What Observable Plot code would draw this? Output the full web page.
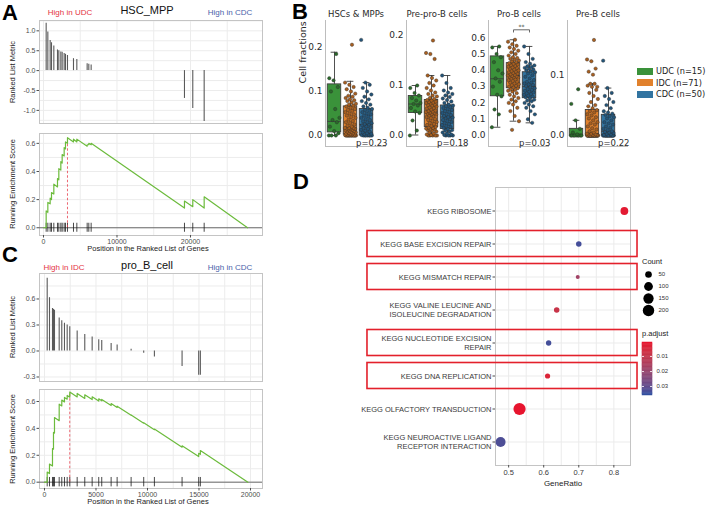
<!DOCTYPE html>
<html><head><meta charset="utf-8">
<script src="https://cdn.jsdelivr.net/npm/d3@7"></script>
<script src="https://cdn.jsdelivr.net/npm/@observablehq/plot@0.6"></script>
<style>
html,body{margin:0;padding:0;background:#fff;}
#root{position:relative;width:709px;height:507px;overflow:hidden;background:#fff;}
</style></head><body><div id="root"></div>
<script>
// ---------------- Panel A : HSC_MPP (GSEA) ----------------
const hscGenes  = [363,590,907,1088,1405,1904,2085,2358,2539,2811,2992,3264,4080,4535,5940,6165,6483,19180,20310,21860];
const hscMetric = [1.19,0.97,0.76,0.70,0.62,0.52,0.50,0.47,0.46,0.43,0.41,0.38,0.30,0.28,0.17,0.16,0.14,-0.70,-0.95,-1.28];
const hscESGene  = [0,363,363,590,590,907,907,1088,1088,1405,1405,1904,1904,2085,2085,2358,2358,2539,2539,2811,2811,2992,2992,3264,3264,4080,4080,4535,4535,5940,5940,6165,6165,6483,6483,19180,19180,20310,20310,21860,21860,27760];
const hscESValue = [0,0,0.12,0.11,0.18,0.17,0.21,0.20,0.25,0.24,0.31,0.29,0.35,0.34,0.42,0.41,0.47,0.46,0.52,0.51,0.57,0.56,0.61,0.60,0.64,0.61,0.63,0.61,0.63,0.58,0.59,0.59,0.60,0.59,0.60,0.14,0.19,0.15,0.20,0.14,0.22,0];

// ---------------- Panel C : pro_B_cell (GSEA) ----------------
const proBGenes  = [262,485,776,873,970,1426,1678,1940,2202,2454,3172,3910,4627,5267,5558,6470,7052,8410,9632,10670,13357,14970,15132];
const proBMetric = [0.84,0.615,0.49,0.48,0.47,0.38,0.35,0.32,0.30,0.28,0.23,0.19,0.16,0.13,0.12,0.085,0.07,0.02,-0.026,-0.07,-0.18,-0.28,-0.28];
const proBESGene  = [0,262,262,485,485,776,776,873,873,970,970,1426,1426,1678,1678,1940,1940,2202,2202,2454,2454,3172,3172,3910,3910,4627,4627,5267,5267,5558,5558,6470,6470,7052,7052,8410,8410,9632,9632,10670,10670,13357,13357,14970,14970,15132,15132,19750];
const proBESValue = [0,0,0.075,0.064,0.135,0.12,0.25,0.245,0.37,0.365,0.48,0.457,0.58,0.567,0.61,0.597,0.63,0.617,0.645,0.632,0.67,0.634,0.66,0.623,0.65,0.614,0.635,0.603,0.62,0.605,0.615,0.57,0.585,0.556,0.565,0.497,0.50,0.439,0.442,0.39,0.395,0.26,0.27,0.19,0.215,0.207,0.235,0];

// ---------------- Panel B : cell fractions ----------------
const bGroups = ["UDC","IDC","CDC"];
const bGroupN = [15,71,50];
const bColors = ["#3a923a","#e1812c","#3274a1"];
const bPointColors = ["#2a6a2a","#a95f1f","#23557a"];
const bCellTypes = ["HSCs & MPPs","Pre-pro-B cells","Pro-B cells","Pre-B cells"];
const bPValues = ["p=0.23","p=0.18","p=0.03","p=0.22"];
// box statistics [UDC, IDC, CDC]
const bLow  = [[0,0,0],[0.001,0,0],[0.051,0.088,0.078],[0,0,0]];
const bQ1   = [[0.007,0.002,0],[0.045,0.017,0.013],[0.241,0.29,0.229],[0,0,0]];
const bMed  = [[0.032,0.017,0.025],[0.063,0.047,0.037],[0.348,0.368,0.30],[0,0.003,0.007]];
const bQ3   = [[0.116,0.066,0.06],[0.079,0.071,0.06],[0.485,0.444,0.388],[0.011,0.042,0.034]];
const bHigh = [[0.189,0.123,0.12],[0.10,0.12,0.12],[0.546,0.587,0.546],[0.025,0.085,0.078]];
// individual samples
const hscUDC = [0,0,0,0.005,0.01,0.02,0.03,0.035,0.04,0.06,0.1,0.11,0.125,0.13,0.185];
const hscIDC = [0,0,0,0,0,0,0,0,0,0,0,0,0,0.001,0.001,0.002,0.002,0.002,0.003,0.004,0.005,0.006,0.007,0.008,0.009,0.010,0.011,0.012,0.013,0.014,0.015,0.016,0.016,0.017,0.017,0.017,0.02,0.022,0.025,0.028,0.03,0.033,0.036,0.04,0.042,0.045,0.048,0.05,0.053,0.056,0.058,0.06,0.063,0.066,0.068,0.07,0.072,0.075,0.078,0.08,0.082,0.085,0.088,0.09,0.095,0.1,0.105,0.11,0.115,0.12,0.206];
const hscCDC = [0,0,0,0,0,0,0,0.001,0.002,0.003,0.004,0.005,0.007,0.009,0.011,0.013,0.015,0.017,0.019,0.021,0.023,0.025,0.026,0.028,0.03,0.032,0.035,0.037,0.04,0.043,0.045,0.048,0.05,0.053,0.056,0.058,0.06,0.063,0.066,0.07,0.074,0.078,0.082,0.088,0.093,0.1,0.108,0.115,0.12,0.217];
const preproUDC = [0,0.01,0.03,0.045,0.048,0.055,0.06,0.063,0.065,0.07,0.075,0.08,0.085,0.095,0.1];
const preproIDC = [0,0,0,0,0,0.001,0.002,0.004,0.006,0.008,0.01,0.011,0.012,0.013,0.014,0.015,0.016,0.017,0.019,0.021,0.023,0.025,0.027,0.029,0.031,0.033,0.035,0.037,0.039,0.04,0.042,0.043,0.044,0.045,0.046,0.047,0.048,0.049,0.05,0.052,0.054,0.055,0.056,0.058,0.06,0.061,0.062,0.064,0.065,0.066,0.067,0.068,0.07,0.071,0.073,0.075,0.078,0.08,0.083,0.086,0.09,0.095,0.1,0.105,0.11,0.115,0.12,0.153,0.163,0.165,0.19];
const preproCDC = [0,0,0,0,0.001,0.002,0.004,0.006,0.008,0.01,0.011,0.013,0.015,0.017,0.019,0.021,0.023,0.025,0.027,0.029,0.031,0.033,0.035,0.036,0.037,0.039,0.041,0.043,0.045,0.047,0.049,0.051,0.053,0.055,0.057,0.059,0.06,0.062,0.065,0.068,0.071,0.074,0.077,0.08,0.083,0.086,0.09,0.095,0.105,0.12];
const proUDC = [0.051,0.13,0.16,0.24,0.25,0.3,0.33,0.35,0.38,0.4,0.45,0.48,0.5,0.54,0.546];
const proIDC = [0.035,0.088,0.12,0.15,0.17,0.19,0.2,0.21,0.22,0.23,0.24,0.25,0.26,0.27,0.275,0.28,0.285,0.29,0.295,0.3,0.305,0.31,0.315,0.32,0.325,0.33,0.335,0.34,0.345,0.35,0.355,0.358,0.36,0.363,0.366,0.368,0.372,0.376,0.38,0.384,0.388,0.392,0.396,0.4,0.405,0.41,0.414,0.418,0.422,0.427,0.432,0.436,0.44,0.444,0.45,0.455,0.46,0.465,0.47,0.475,0.48,0.49,0.5,0.51,0.52,0.53,0.54,0.55,0.56,0.575,0.587];
const proCDC = [0.078,0.1,0.13,0.15,0.17,0.18,0.19,0.2,0.21,0.215,0.22,0.229,0.235,0.24,0.245,0.25,0.255,0.26,0.265,0.27,0.275,0.28,0.285,0.29,0.297,0.303,0.31,0.315,0.32,0.325,0.33,0.34,0.35,0.36,0.37,0.38,0.388,0.395,0.4,0.405,0.41,0.415,0.42,0.425,0.43,0.44,0.45,0.47,0.5,0.546];
const preBUDC = [0,0,0,0,0,0,0,0,0,0.002,0.005,0.011,0.025,0.052,0.076];
const preBIDC = [0,0,0,0,0,0,0,0,0,0,0,0,0,0,0,0,0,0,0,0,0,0,0,0,0,0,0,0,0,0,0.001,0.001,0.002,0.002,0.003,0.003,0.005,0.007,0.01,0.012,0.015,0.018,0.02,0.022,0.025,0.028,0.03,0.033,0.035,0.038,0.04,0.042,0.045,0.048,0.05,0.055,0.06,0.065,0.07,0.075,0.08,0.082,0.085,0.085,0.08,0.1,0.105,0.11,0.122,0.125,0.157];
const preBCDC = [0,0,0,0,0,0,0,0,0,0,0,0,0,0,0,0,0,0,0,0,0.001,0.002,0.003,0.004,0.005,0.006,0.007,0.009,0.011,0.013,0.015,0.018,0.02,0.022,0.025,0.028,0.03,0.032,0.034,0.036,0.038,0.04,0.045,0.05,0.055,0.06,0.065,0.07,0.078,0.123];
const bPoints = [[hscUDC,hscIDC,hscCDC],[preproUDC,preproIDC,preproCDC],[proUDC,proIDC,proCDC],[preBUDC,preBIDC,preBCDC]];
const bSignif = {panel: 2, from: 1, to: 2, y: 0.648, label: "**"};

// ---------------- Panel D : KEGG dot plot ----------------
const keggTerms = ["KEGG RIBOSOME","KEGG BASE EXCISION REPAIR","KEGG MISMATCH REPAIR","KEGG VALINE LEUCINE AND ISOLEUCINE DEGRADATION","KEGG NUCLEOTIDE EXCISION REPAIR","KEGG DNA REPLICATION","KEGG OLFACTORY TRANSDUCTION","KEGG NEUROACTIVE LIGAND RECEPTOR INTERACTION"];
const keggLabels = ["KEGG RIBOSOME","KEGG BASE EXCISION REPAIR","KEGG MISMATCH REPAIR","KEGG VALINE LEUCINE AND\nISOLEUCINE DEGRADATION","KEGG NUCLEOTIDE EXCISION\nREPAIR","KEGG DNA REPLICATION","KEGG OLFACTORY TRANSDUCTION","KEGG NEUROACTIVE LIGAND\nRECEPTOR INTERACTION"];
const geneRatio = [0.83,0.70,0.697,0.637,0.614,0.611,0.531,0.477];
const geneCount = [73,32,16,32,30,28,240,140];
const pAdjust   = [0.002,0.034,0.018,0.009,0.034,0.004,0.001,0.033];
const highlighted = ["KEGG BASE EXCISION REPAIR","KEGG MISMATCH REPAIR","KEGG NUCLEOTIDE EXCISION REPAIR","KEGG DNA REPLICATION"];
const countBreaks = [50,100,150,200];
const pBreaks = [0.01,0.02,0.03];
const geneRatioTicks = [0.5,0.6,0.7,0.8];

// ================= helpers =================
const root = document.getElementById("root");
const GG = '"Liberation Sans", Arial, Helvetica, sans-serif';
const MPL = '"DejaVu Sans", sans-serif';

function mount(opts, f, m) {
  const svg = Plot.plot({
    ...opts,
    width: f.x1 - f.x0 + m.l + m.r,
    height: f.y1 - f.y0 + m.t + m.b,
    marginLeft: m.l, marginRight: m.r, marginTop: m.t, marginBottom: m.b,
    style: {background: "none", overflow: "visible", fontFamily: opts.font || GG}
  });
  svg.style.position = "absolute";
  svg.style.left = (f.x0 - m.l) + "px";
  svg.style.top = (f.y0 - m.t) + "px";
  root.appendChild(svg);
  return svg;
}
function txt(s, x, y, o = {}) {
  const d = document.createElement("div");
  d.textContent = s;
  const ax = o.anchor === "start" ? "0%" : o.anchor === "end" ? "-100%" : "-50%";
  d.style.cssText = `position:absolute;left:${x}px;top:${y}px;transform:translate(${ax},-50%)${o.rotate ? ` rotate(${o.rotate}deg)` : ""};` +
    `font-size:${o.size || 8}px;color:${o.color || "#000"};font-family:${o.family || GG};font-weight:${o.weight || "normal"};white-space:nowrap;line-height:${o.lh || 1};`;
  root.appendChild(d);
  return d;
}

// ================= GSEA panels =================
function gsea(c) {
  const hits = c.genes.map((g, i) => ({gene: g, metric: c.metric[i]}));
  const es = c.esGene.map((g, i) => ({gene: g, es: c.esValue[i]}));
  const pk = d3.maxIndex(c.esValue);
  const peak = [{gene: c.esGene[pk], es: c.esValue[pk]}];
  const X = {x0: 39, x1: 262};
  const axisStyle = {tickSize: 2.5, tickPadding: 1.5, fontSize: 7, fill: "#4d4d4d", stroke: "#4d4d4d", label: null};
  mount({
    x: {domain: c.xDomain, axis: null},
    y: {domain: c.top.dom, axis: null},
    marks: [
      Plot.ruleX(c.xGrid, {stroke: "#ececec"}),
      Plot.ruleY(c.top.grid, {stroke: "#ececec"}),
      Plot.ruleX(hits, {x: "gene", y1: 0, y2: "metric", stroke: "#5a5a5a", strokeWidth: 1.1}),
      Plot.frame({stroke: "#c4c4c4"}),
      Plot.axisY(c.top.ticks, {...axisStyle, tickFormat: d => d.toFixed(1)})
    ]
  }, {...X, y0: c.top.y0, y1: c.top.y1}, {l: 40, r: 2, t: 2, b: 2});
  mount({
    x: {domain: c.xDomain, axis: null},
    y: {domain: c.bot.dom, axis: null},
    marks: [
      Plot.ruleX(c.xGrid, {stroke: "#ececec"}),
      Plot.ruleY(c.bot.grid, {stroke: "#ececec"}),
      Plot.frame({stroke: "#c4c4c4"}),
      Plot.ruleY([0], {stroke: "#5a5a5a", strokeWidth: 0.9}),
      Plot.ruleX(hits, {x: "gene", y1: -c.bot.tick, y2: c.bot.tick, stroke: "#1a1a1a", strokeWidth: 0.8}),
      Plot.ruleX(peak, {x: "gene", y1: 0, y2: "es", stroke: "#e8414f", strokeDasharray: "2.5,2", strokeWidth: 0.8}),
      Plot.line(es, {x: "gene", y: "es", stroke: "#6cbb3c", strokeWidth: 1.2}),
      Plot.axisX(c.xTicks, {...axisStyle, tickFormat: d => String(d)}),
      Plot.axisY(c.bot.ticks, {...axisStyle, tickFormat: d => d.toFixed(1)})
    ]
  }, {...X, y0: c.bot.y0, y1: c.bot.y1}, {l: 40, r: 2, t: 2, b: 20});
  txt("Ranked List Metric", 13, (c.top.y0 + c.top.y1) / 2, {size: 7.5, color: "#222", rotate: -90});
  txt("Running Enrichment Score", 13, (c.bot.y0 + c.bot.y1) / 2, {size: 7.5, color: "#222", rotate: -90});
  txt("Position in the Ranked List of Genes", 148, c.bot.y1 + 14, {size: 7.5, color: "#222"});
  txt(c.title, 147, c.titleY, {size: 11, color: "#111"});
  txt(c.left, c.leftX, c.titleY + 3, {size: 8, color: "#e4343f"});
  txt(c.right, 230, c.titleY + 3, {size: 8, color: "#4a63aa"});
}

gsea({
  genes: hscGenes, metric: hscMetric, esGene: hscESGene, esValue: hscESValue,
  xDomain: [-544, 29796], xTicks: [0, 10000, 20000], xGrid: [0, 5000, 10000, 15000, 20000, 25000],
  top: {y0: 20, y1: 123, dom: [-1.33, 1.26], ticks: [-1, -0.5, 0, 0.5, 1], grid: [-1.25, -1, -0.75, -0.5, -0.25, 0, 0.25, 0.5, 0.75, 1, 1.25]},
  bot: {y0: 133, y1: 235, dom: [-0.055, 0.67], ticks: [0, 0.2, 0.4, 0.6], grid: [0, 0.1, 0.2, 0.3, 0.4, 0.5, 0.6], tick: 0.032},
  title: "HSC_MPP", titleY: 10, left: "High in UDC", leftX: 70, right: "High in CDC"
});
gsea({
  genes: proBGenes, metric: proBMetric, esGene: proBESGene, esValue: proBESValue,
  xDomain: [-485, 21165], xTicks: [0, 5000, 10000, 15000, 20000], xGrid: [0, 2500, 5000, 7500, 10000, 12500, 15000, 17500, 20000],
  top: {y0: 273, y1: 381, dom: [-0.352, 0.894], ticks: [-0.3, 0, 0.3, 0.6], grid: [-0.3, -0.15, 0, 0.15, 0.3, 0.45, 0.6, 0.75]},
  bot: {y0: 389, y1: 488, dom: [-0.047, 0.689], ticks: [0, 0.2, 0.4, 0.6], grid: [0, 0.1, 0.2, 0.3, 0.4, 0.5, 0.6], tick: 0.035},
  title: "pro_B_cell", titleY: 265, left: "High in IDC", leftX: 64, right: "High in CDC"
});

// ================= Panel B =================
const bLayout = [
  {x0: 325, dom: [-0.025, 0.261], ticks: [0, 0.1, 0.2]},
  {x0: 406, dom: [-0.022, 0.23], ticks: [0, 0.1, 0.2]},
  {x0: 488, dom: [-0.067, 0.705], ticks: [0, 0.1, 0.2, 0.3, 0.4, 0.5, 0.6]},
  {x0: 567, dom: [-0.018, 0.189], ticks: [0, 0.1]}
];
const jit = (j, i) => ((((j * 0.6180339) + i * 0.37) % 1) - 0.5) * 0.7;
bLayout.forEach((L, k) => {
  const stats = bGroups.map((g, i) => ({pos: i, lo: bLow[k][i], q1: bQ1[k][i], med: bMed[k][i], q3: bQ3[k][i], hi: bHigh[k][i]}));
  const pts = bPoints[k].flatMap((arr, i) => arr.map((v, j) => ({pos: i, v, j})));
  const xd = [-0.5625, 3.25];
  const edge = "#3d3d3d";
  const marks = [
    Plot.ruleX([xd[0]], {stroke: "#bdbdbd", strokeWidth: 1}),
    Plot.ruleY([L.dom[0]], {stroke: "#bdbdbd", strokeWidth: 1}),
    Plot.ruleX(stats, {x: "pos", y1: "lo", y2: "q1", stroke: edge, strokeWidth: 0.9}),
    Plot.ruleX(stats, {x: "pos", y1: "q3", y2: "hi", stroke: edge, strokeWidth: 0.9}),
    Plot.ruleY(stats, {y: "lo", x1: d => d.pos - 0.21, x2: d => d.pos + 0.21, stroke: edge, strokeWidth: 0.9}),
    Plot.ruleY(stats, {y: "hi", x1: d => d.pos - 0.21, x2: d => d.pos + 0.21, stroke: edge, strokeWidth: 0.9}),
    Plot.rect(stats, {x1: d => d.pos - 0.42, x2: d => d.pos + 0.42, y1: "q1", y2: "q3", fill: d => bColors[d.pos], stroke: edge, strokeWidth: 0.9}),
    Plot.ruleY(stats, {y: "med", x1: d => d.pos - 0.42, x2: d => d.pos + 0.42, stroke: edge, strokeWidth: 0.9}),
    Plot.dot(pts, {x: d => d.pos + jit(d.j, d.pos), y: "v", r: 1.7, fill: d => bPointColors[d.pos], stroke: "#2a2a2a", strokeWidth: 0.4}),
    Plot.axisY(L.ticks, {tickSize: 0, tickPadding: 3, fontSize: 9, fontFamily: MPL, fill: "#2a2a2a", tickFormat: d => d.toFixed(1), label: null}),
    Plot.text([bCellTypes[k]], {text: d => d, frameAnchor: "top", dy: -10, fontSize: 8.5, fontFamily: MPL, fill: "#2a2a2a"}),
    Plot.text([bPValues[k]], {text: d => d, frameAnchor: "bottom-right", textAnchor: "end", lineAnchor: "bottom", dy: -1, dx: 1, fontSize: 8.5, fontFamily: MPL, fill: "#2a2a2a"})
  ];
  if (k === 0) marks.push(Plot.text(["Cell fractions"], {text: d => d, frameAnchor: "left", rotate: -90, dx: -23, fontSize: 9.5, fontFamily: MPL, fill: "#2a2a2a"}));
  if (k === bSignif.panel) {
    const s = bSignif;
    const br = [{x: s.from, y: s.y - 0.014}, {x: s.from, y: s.y}, {x: s.to, y: s.y}, {x: s.to, y: s.y - 0.014}];
    marks.push(Plot.line(br, {x: "x", y: "y", stroke: "#444", strokeWidth: 0.8}));
    marks.push(Plot.text([s], {x: d => (d.from + d.to) / 2, y: d => d.y, text: d => d.label, dy: -3, fontSize: 6, fill: "#333"}));
  }
  mount({
    font: MPL,
    x: {domain: xd, axis: null},
    y: {domain: L.dom, axis: null},
    marks
  }, {x0: L.x0, x1: L.x0 + 61, y0: 20, y1: 146}, {l: 26, r: 4, t: 20, b: 6});
});
// legend of panel B
bGroups.forEach((g, i) => {
  const y = 71 + i * 11.5;
  const sw = document.createElement("div");
  sw.style.cssText = `position:absolute;left:637px;top:${y - 3.5}px;width:16px;height:7px;background:${bColors[i]};`;
  root.appendChild(sw);
  txt(`${g} (n=${bGroupN[i]})`, 656, y, {anchor: "start", size: 8.2, family: MPL, color: "#222"});
});

// ================= Panel D =================
const dRows = keggTerms.map((t, i) => ({term: t, ratio: geneRatio[i], count: geneCount[i], p: pAdjust[i]}));
const rScale = {type: "pow", exponent: 0.3, domain: [16, 240], range: [2, 6.1]};
const cScale = {type: "linear", domain: [0.0007, 0.036], range: ["#e8112d", "#2c4fa0"], interpolate: "lab"};
mount({
  x: {domain: [0.4625, 0.8475], axis: null},
  y: {type: "band", domain: keggTerms, paddingInner: 0, paddingOuter: 0.1, axis: null},
  r: rScale,
  color: cScale,
  marks: [
    Plot.ruleX([0.5, 0.55, 0.6, 0.65, 0.7, 0.75, 0.8], {stroke: "#ebebeb"}),
    Plot.ruleY(keggTerms, {y: d => d, stroke: "#ebebeb"}),
    Plot.frame({stroke: "#c4c4c4"}),
    Plot.barX(highlighted, {y: d => d, x1: 0.0974, x2: 0.8675, insetTop: 3.5, insetBottom: 3.5, fill: "none", stroke: "#e3202b", strokeWidth: 1.6}),
    Plot.dot(dRows, {x: "ratio", y: "term", r: "count", fill: "p"}),
    Plot.axisY({tickSize: 2.5, tickPadding: 1.5, fontSize: 7.5, fill: "#3a3a3a", stroke: "#4d4d4d", lineHeight: 1.15, label: null,
      tickFormat: t => keggLabels[keggTerms.indexOf(t)]}),
    Plot.axisX(geneRatioTicks, {tickSize: 2.5, tickPadding: 1.5, fontSize: 7.5, fill: "#3a3a3a", stroke: "#4d4d4d", label: null, tickFormat: d => d.toFixed(1)}),
    Plot.text(["GeneRatio"], {text: d => d, frameAnchor: "bottom", dy: 20, fontSize: 8, fill: "#222"})
  ]
}, {x0: 495, x1: 630, y0: 187, y1: 465}, {l: 140, r: 10, t: 4, b: 28});

// Count legend
txt("Count", 642, 262, {anchor: "start", size: 7.5, color: "#222"});
mount({
  x: {domain: [0, 1], axis: null},
  y: {type: "point", domain: countBreaks, padding: 0.5, axis: null},
  r: rScale,
  marks: [
    Plot.dot(countBreaks, {y: d => d, r: d => d, fill: "#000", frameAnchor: "middle"}),
    Plot.text(countBreaks, {y: d => d, text: d => String(d), frameAnchor: "right", dx: 4, textAnchor: "start", fontSize: 6, fill: "#333"})
  ]
}, {x0: 642, x1: 654, y0: 267, y1: 316}, {l: 2, r: 30, t: 2, b: 2});

// p.adjust colour bar
txt("p.adjust", 642, 334, {anchor: "start", size: 7.5, color: "#222"});
const rampN = 40;
const rampEdges = d3.range(rampN + 1).map(i => cScale.domain[0] + (cScale.domain[1] - cScale.domain[0]) * i / rampN);
const rampBins = d3.pairs(rampEdges).map(([a, b]) => ({a, b, m: (a + b) / 2}));
mount({
  x: {domain: [0, 1], axis: null},
  y: {domain: [cScale.domain[1], cScale.domain[0]], axis: null},
  color: cScale,
  marks: [
    Plot.rect(rampBins, {x1: 0, x2: 1, y1: "a", y2: "b", fill: "m", stroke: "m", strokeWidth: 0.5}),
    Plot.ruleY(pBreaks, {x1: 0, x2: 0.2, stroke: "white", strokeWidth: 0.8}),
    Plot.ruleY(pBreaks, {x1: 0.8, x2: 1, stroke: "white", strokeWidth: 0.8}),
    Plot.text(pBreaks, {y: d => d, text: d => d.toFixed(2), frameAnchor: "right", dx: 4, textAnchor: "start", fontSize: 6, fill: "#333"})
  ]
}, {x0: 642, x1: 652, y0: 342, y1: 395}, {l: 2, r: 30, t: 2, b: 2});

// panel letters
txt("A", 10, 12.5, {size: 22, weight: "bold", lh: 0.8});
txt("B", 300, 12, {size: 22, weight: "bold", lh: 0.8});
txt("C", 10, 255, {size: 22, weight: "bold", lh: 0.8});
txt("D", 301, 182, {size: 22, weight: "bold", lh: 0.8});
</script></body></html>
